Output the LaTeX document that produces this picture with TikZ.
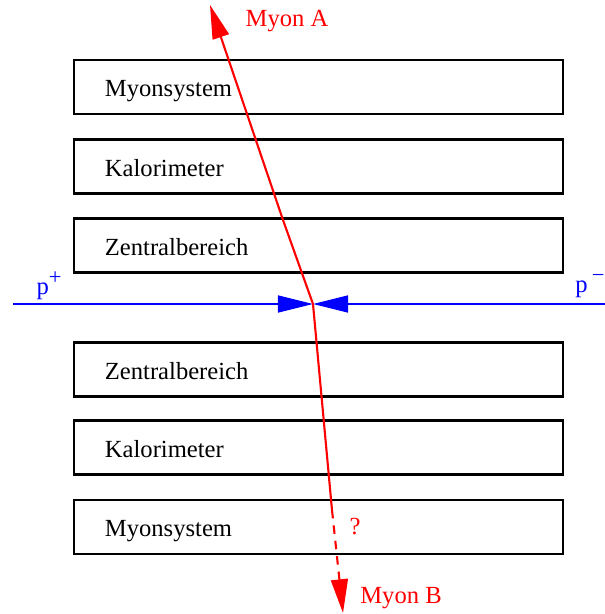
\documentclass[tikz,border=0pt]{standalone}
\usepackage{fontspec}
\setmainfont{Liberation Serif}
\usepackage{tikz}
\usetikzlibrary{arrows.meta, positioning, calc}
\definecolor{cMuon}{RGB}{255,0,0}
\definecolor{cBeam}{RGB}{0,0,255}
\tikzset{
	detbox/.style ={rectangle, draw=black, line width=1.5pt, minimum height=1.35cm, text width=10.675cm, inner xsep=0.775cm, text height=1.4em, text depth=0pt, align=left},
	muon/.style   ={-{Triangle[length=24pt, width=12pt]}, line width=1.5pt, cMuon},
	muonseg/.style={line width=1.5pt, cMuon},
	beam/.style   ={-{Triangle[length=25pt, width=12pt]}, line width=1.5pt, cBeam},
	lbl/.style    ={inner sep=0pt},
}

\begin{document}
\begin{tikzpicture}[x=0.025cm, y=-0.025cm, font=\fontsize{17.5}{21}\selectfont]
	\useasboundingbox (0,0) rectangle (605,614);
	% detector layers, upper half
	\node[detbox] (muU) at (318.5,87) {Myonsystem};
	\node[detbox] (kalU) at (318.5,166.5) {Kalorimeter};
	\node[detbox] (zenU) at (318.5,245.5) {Zentralbereich};
	% lower half
	\node[detbox] (zenL) at (318.5,369.5) {Zentralbereich};
	\node[detbox] (kalL) at (318.5,447.5) {Kalorimeter};
	\node[detbox] (muL) at (318.5,527) {Myonsystem};
	% beams
	\coordinate (ip) at (313,304);
	\coordinate (beamL) at (13,304);
	\coordinate (beamR) at (605,304);
	\draw[beam] (beamL) -- (ip);
	\draw[beam] (beamR) -- (ip);
	\node[lbl, text=cBeam] (pplus) at (49,286) {p\raisebox{0.4em}{\fontsize{16}{16}\selectfont +}};
	\node[lbl, text=cBeam] (pminus) at (590,286) {p\,\raisebox{0.4em}{\fontsize{16}{16}\selectfont −}};
	% muons
	\coordinate (kinkA) at (283,220);
	\coordinate (tipA) at (210,5);
	\coordinate (brkB) at (332,510);
	\coordinate (tipB) at (343,613);
	\draw[muon] (ip) -- (kinkA) -- (tipA);
	\draw[muonseg] (ip) -- (brkB);
	\draw[muon, dash pattern=on 6pt off 5pt] (brkB) -- (tipB);
	\node[lbl, text=cMuon] (labA) at (287,21) {Myon A};
	\node[lbl, text=cMuon] (labB) at (401,598) {Myon B};
	\node[lbl, text=cMuon] (qB) at (355,527) {?};
\end{tikzpicture}
\end{document}
